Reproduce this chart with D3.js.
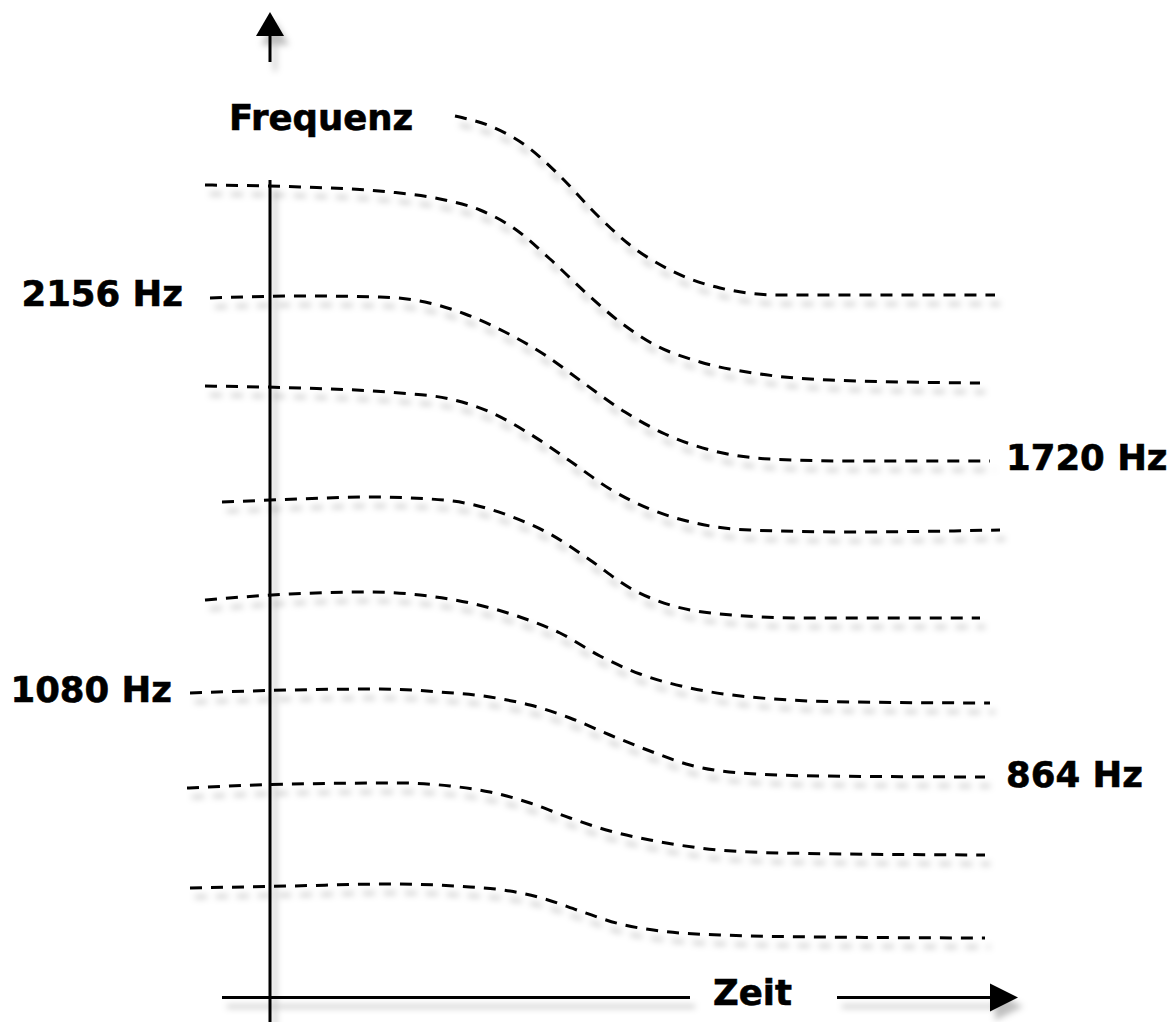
<!DOCTYPE html>
<html>
<head>
<meta charset="utf-8">
<script src="https://cdn.jsdelivr.net/npm/d3@7"></script>
<style>
  html, body { margin: 0; padding: 0; background: #fff; }
  svg { display: block; }
  text { font-family: "DejaVu Sans", Verdana, sans-serif; font-weight: bold; font-size: 35.5px; fill: #000; stroke: #000; stroke-width: 0.6px; }
</style>
</head>
<body>
<svg id="chart" width="1174" height="1022"></svg>
<script>
// Data: each partial tone as [zeit, frequenz] points (arbitrary units)
const partial1 = [[185,884],[220,874],[255,855],[290,824],[325,787],[360,755],[400,730],[450,712],[510,705],[725,705]];
const partial2 = [[-65,815],[30,813],[120,808],[170,801],[210,790],[245,771],[280,741],[315,708],[350,678],[385,655],[430,638],[490,626],[560,620],[710,617]];
const partial3 = [[-60,702],[30,704],[110,703],[155,698],[195,686],[235,668],[275,645],[315,616],[355,588],[395,566],[440,550],[500,541],[580,539],[720,539]];
const partial4 = [[-65,614],[30,612],[130,607],[180,601],[220,588],[260,566],[300,539],[340,511],[380,491],[425,477],[480,470],[580,468],[730,470]];
const partial5 = [[-48,498],[30,501],[100,503],[160,501],[200,496],[240,484],[280,466],[320,440],[360,412],[400,395],[450,386],[530,382],[710,382]];
const partial6 = [[-65,400],[20,406],[100,408],[150,405],[200,397],[250,383],[290,367],[330,344],[370,326],[420,312],[480,303],[580,298],[720,297]];
const partial7 = [[-80,307],[20,310],[110,311],[170,308],[220,303],[260,295],[300,282],[340,265],[380,249],[420,235],[470,227],[550,224],[715,223]];
const partial8 = [[-83,212],[20,216],[130,217],[180,214],[220,208],[260,197],[300,182],[340,169],[380,160],[430,152],[510,147],[715,145]];
const partial9 = [[-80,112],[20,114],[120,116],[200,113],[240,109],[275,101],[310,89],[350,76],[390,69],[450,65],[550,63],[715,62]];

const leftLabels  = [{text: "2156 Hz", at: [-87, 694]}, {text: "1080 Hz", at: [-98, 298]}];
const rightLabels = [{text: "1720 Hz", at: [736, 530]}, {text: "864 Hz", at: [736, 213]}];
const axisTitles = {y: "Frequenz", x: "Zeit"};

const partials = [partial1, partial2, partial3, partial4, partial5, partial6, partial7, partial8, partial9];

const svg = d3.select("#chart");
const x = d3.scaleLinear().domain([-100, 750]).range([170, 1020]);
const y = d3.scaleLinear().domain([0, 1000]).range([1000, 0]);

// shadow filter
const defs = svg.append("defs");
const f = defs.append("filter").attr("id", "shadow")
  .attr("x", "-20%").attr("y", "-20%").attr("width", "140%").attr("height", "160%");
f.append("feDropShadow").attr("dx", 5).attr("dy", 9).attr("stdDeviation", 3)
  .attr("flood-color", "#000").attr("flood-opacity", 0.25);

// axes
const axisG = svg.append("g").attr("filter", "url(#shadow)");
const stroke = "#000";
// vertical axis (at zeit = 0)
axisG.append("line").attr("x1", x(0)).attr("x2", x(0)).attr("y1", y(820)).attr("y2", y(-30))
  .attr("stroke", stroke).attr("stroke-width", 3);
axisG.append("line").attr("x1", x(0)).attr("x2", x(0)).attr("y1", y(938)).attr("y2", y(966))
  .attr("stroke", stroke).attr("stroke-width", 3);
axisG.append("path")
  .attr("d", `M${x(0)},${y(988)} L${x(0)+14},${y(964)} L${x(0)-14},${y(964)} Z`)
  .attr("fill", stroke);
// horizontal axis (at frequenz ≈ 3)
const yAx = y(2.5);
axisG.append("line").attr("x1", x(-48)).attr("x2", x(420)).attr("y1", yAx).attr("y2", yAx)
  .attr("stroke", stroke).attr("stroke-width", 3);
axisG.append("line").attr("x1", x(567)).attr("x2", x(722)).attr("y1", yAx).attr("y2", yAx)
  .attr("stroke", stroke).attr("stroke-width", 3);
axisG.append("path")
  .attr("d", `M${x(748)},${yAx} L${x(720)},${yAx-14} L${x(720)},${yAx+14} Z`)
  .attr("fill", stroke);

// partial curves
const line = d3.line().x(d => x(d[0])).y(d => y(d[1])).curve(d3.curveMonotoneX);
svg.append("g").attr("filter", "url(#shadow)")
  .selectAll("path").data(partials).join("path")
  .attr("d", line)
  .attr("fill", "none")
  .attr("stroke", "#000")
  .attr("stroke-width", 3)
  .attr("stroke-dasharray", "12 9");

// labels
const tg = svg.append("g");
leftLabels.forEach(l => {
  tg.append("text").attr("x", x(l.at[0])).attr("y", y(l.at[1]))
    .attr("text-anchor", "end").text(l.text);
});
rightLabels.forEach(l => {
  tg.append("text").attr("x", x(l.at[0])).attr("y", y(l.at[1]))
    .attr("text-anchor", "start").text(l.text);
});
tg.append("text").attr("x", x(-41)).attr("y", y(870)).text(axisTitles.y);
tg.append("text").attr("x", x(443)).attr("y", y(-5)).text(axisTitles.x);
</script>
</body>
</html>
